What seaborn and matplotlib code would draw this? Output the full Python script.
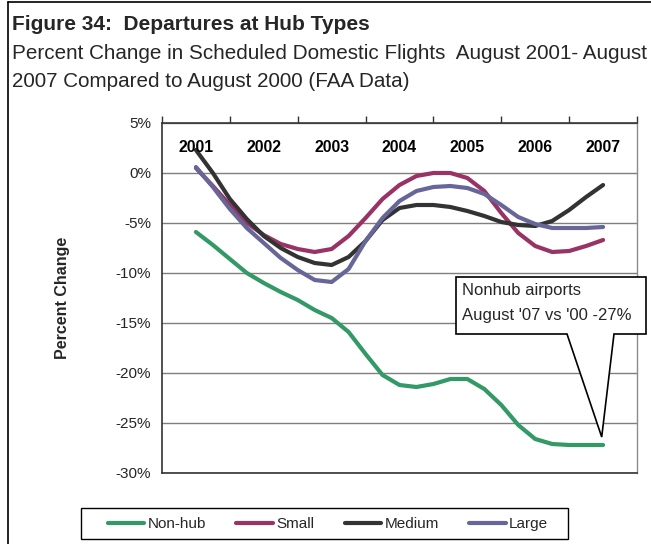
import numpy as np
import pandas as pd
import seaborn as sns
import matplotlib.pyplot as plt
from matplotlib.patches import Polygon, Rectangle
from matplotlib.lines import Line2D

# quarterly readings, Aug 2001 .. Aug 2007 (% change vs Aug 2000)
quarters = [2001.00, 2001.25, 2001.50, 2001.75, 2002.00, 2002.25, 2002.50, 2002.75,
            2003.00, 2003.25, 2003.50, 2003.75, 2004.00, 2004.25, 2004.50, 2004.75,
            2005.00, 2005.25, 2005.50, 2005.75, 2006.00, 2006.25, 2006.50, 2006.75,
            2007.00]
non_hub = [-5.9, -7.2, -8.6, -10.0, -11.0, -11.9, -12.7, -13.7,
           -14.5, -15.9, -18.1, -20.2, -21.2, -21.4, -21.1, -20.6,
           -20.6, -21.6, -23.2, -25.2, -26.6, -27.1, -27.2, -27.2,
           -27.2]
small = [0.5, -1.3, -3.2, -5.0, -6.2, -7.1, -7.6, -7.9,
         -7.6, -6.3, -4.5, -2.6, -1.2, -0.3, 0.0, 0.0,
         -0.5, -1.8, -4.0, -6.0, -7.3, -7.9, -7.8, -7.3,
         -6.7]
medium = [2.3, 0.0, -2.6, -4.6, -6.3, -7.5, -8.4, -9.0,
          -9.2, -8.4, -6.8, -4.7, -3.5, -3.2, -3.2, -3.4,
          -3.8, -4.3, -4.9, -5.2, -5.3, -4.8, -3.7, -2.4,
          -1.2]
large = [0.6, -1.4, -3.6, -5.5, -7.0, -8.5, -9.7, -10.7,
         -10.9, -9.6, -6.8, -4.5, -2.8, -1.8, -1.4, -1.3,
         -1.5, -2.1, -3.2, -4.4, -5.1, -5.5, -5.5, -5.5,
         -5.4]
years = [2001, 2002, 2003, 2004, 2005, 2006, 2007]
series_names = ['Non-hub', 'Small', 'Medium', 'Large']
colors = ['#339966', '#993366', '#333333', '#666699']
y_ticks = [5, 0, -5, -10, -15, -20, -25, -30]

df = pd.DataFrame({'quarter': quarters, 'Non-hub': non_hub, 'Small': small,
                   'Medium': medium, 'Large': large})
long_df = df.melt(id_vars='quarter', var_name='hub', value_name='pct')

sns.set_style('white')
plt.rcParams['font.family'] = ['Liberation Sans', 'DejaVu Sans']

W, H = 651, 544
fig = plt.figure(figsize=(W / 100, H / 100), dpi=100)


def fx(x):
    return x / W


def fy(y):
    return 1 - y / H


ax = fig.add_axes([fx(162), fy(473), fx(637) - fx(162), fy(123) - fy(473)])
sns.lineplot(data=long_df, x='quarter', y='pct', hue='hub', hue_order=series_names,
             palette=colors, linewidth=3, ax=ax, legend=False,
             solid_capstyle='round', solid_joinstyle='round', zorder=3)

ax.set_xlim(2000.5, 2007.5)
ax.set_ylim(-30, 5)
ax.set_yticks(y_ticks)
ax.set_yticklabels([f'{t}%' for t in y_ticks], fontsize=11)
ax.yaxis.grid(True, color='#7f7f7f', linewidth=1)
ax.set_axisbelow(True)
ax.set_xlabel('')
ax.set_ylabel('')

# category axis drawn along the top, labels sit inside the plot
ax.xaxis.tick_top()
ax.set_xticks(np.arange(2000.5, 2008, 1.0))
ax.set_xticklabels([])
ax.tick_params(axis='x', direction='out', length=5, width=1, color='#333333')
ax.tick_params(axis='y', direction='out', length=5, width=1, color='#333333', pad=3)
for yr in years:
    ax.text(yr, 2.6, str(yr), ha='center', va='center', fontsize=11.4,
            fontweight='bold', color='black')

for side in ['top', 'left', 'bottom']:
    ax.spines[side].set_color('#333333')
    ax.spines[side].set_linewidth(1.2)
ax.spines['right'].set_color('#8c8c8c')
ax.spines['right'].set_linewidth(1)

# titles
fig.text(fx(12), fy(30), 'Figure 34:  Departures at Hub Types', fontsize=15,
         fontweight='bold', va='baseline', ha='left')
fig.text(fx(12), fy(59), 'Percent Change in Scheduled Domestic Flights  August 2001- August',
         fontsize=14.9, va='baseline', ha='left')
fig.text(fx(12), fy(87), '2007 Compared to August 2000 (FAA Data)',
         fontsize=14.9, va='baseline', ha='left')
fig.text(fx(63), fy(298), 'Percent Change', rotation=90, fontsize=11.5,
         fontweight='bold', ha='center', va='center')

# callout for the non-hub end value
fig.canvas.draw()
tip_disp = ax.transData.transform((2006.98, -26.4))
tip = fig.transFigure.inverted().transform(tip_disp)
pts = [(fx(456), fy(277)), (fx(646), fy(277)), (fx(646), fy(334)),
       (fx(614), fy(334)), tuple(tip), (fx(567), fy(334)), (fx(456), fy(334))]
fig.patches.append(Polygon(pts, closed=True, facecolor='white', edgecolor='black',
                           linewidth=1.2, transform=fig.transFigure, zorder=5))
fig.text(fx(462), fy(295), 'Nonhub airports', fontsize=12, va='baseline',
         ha='left', zorder=6)
fig.text(fx(462), fy(320), "August '07 vs '00 -27%", fontsize=12, va='baseline',
         ha='left', zorder=6)

# legend: entries without frame, box drawn separately to get Excel-like padding
handles = [Line2D([], [], color=c, linewidth=3, solid_capstyle='round')
           for c in colors]
leg = fig.legend(handles, series_names, loc='center', ncol=4,
                 bbox_to_anchor=(fx(328), fy(524)), fontsize=11,
                 frameon=False, handlelength=2.4,
                 handletextpad=0.2, columnspacing=2.0, borderpad=0.2)
fig.patches.append(Rectangle((fx(81), fy(539)), fx(568) - fx(81), fy(508) - fy(539),
                             fill=False, edgecolor='black', linewidth=1,
                             transform=fig.transFigure))

# outer border of the figure box: left and top edges
fig.lines.append(Line2D([fx(8), fx(8)], [fy(2), 0], color='black', linewidth=1.2,
                        transform=fig.transFigure))
fig.lines.append(Line2D([fx(8), 1], [fy(2), fy(2)], color='black', linewidth=1.2,
                        transform=fig.transFigure))

fig.savefig('out.png', dpi=100)
